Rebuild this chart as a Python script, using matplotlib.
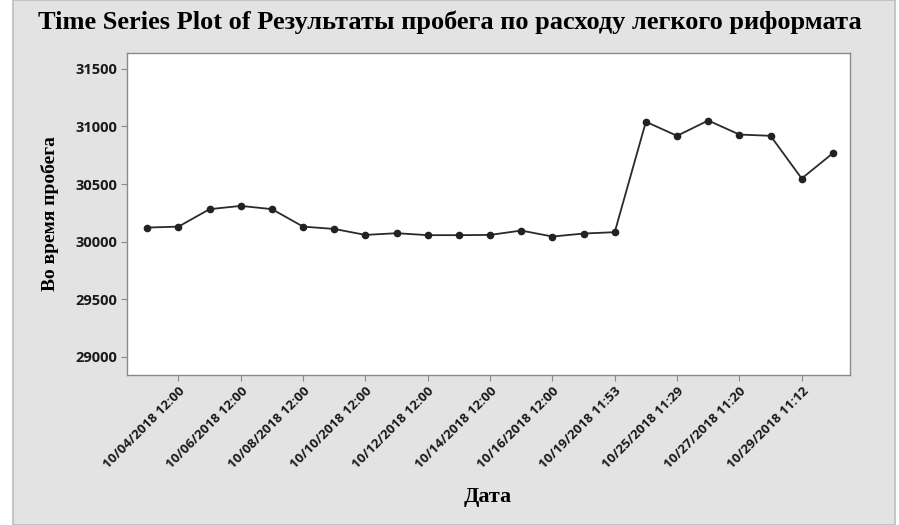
"""
Time series plot (Minitab-style) of light reformate run results.
"""
import matplotlib
matplotlib.use("Agg")
import matplotlib.pyplot as plt
from matplotlib.patches import Rectangle

# data
values = [
    30122, 30130, 30282, 30310, 30282, 30130, 30110, 30058, 30073, 30056,
    30056, 30058, 30096, 30044, 30070, 30082, 31041, 30919, 31052, 30930,
    30919, 30548, 30768,
]
tick_pos = [1, 3, 5, 7, 9, 11, 13, 15, 17, 19, 21]
tick_labels = [
    "10/04/2018 12:00", "10/06/2018 12:00", "10/08/2018 12:00",
    "10/10/2018 12:00", "10/12/2018 12:00", "10/14/2018 12:00",
    "10/16/2018 12:00", "10/19/2018 11:53", "10/25/2018 11:29",
    "10/27/2018 11:20", "10/29/2018 11:12",
]
y_ticks = [29000, 29500, 30000, 30500, 31000, 31500]

title = "Time Series Plot of Результаты пробега по расходу легкого риформата"
ylabel = "Во время пробега"
xlabel = "Дата"

serif = ["Liberation Serif", "DejaVu Serif"]
sans = ["Open Sans", "DejaVu Sans"]

fig = plt.figure(figsize=(8.99, 5.25), dpi=100)
fig.patch.set_facecolor("white")

# gray panel behind everything
fig.patches.append(Rectangle((13 / 899, 0), (895 - 13) / 899, 1,
                             transform=fig.transFigure, facecolor="#e3e3e3",
                             edgecolor="#bdbdbd", linewidth=1.2, zorder=-5))

ax = fig.add_axes((0.1413, 0.2857, 0.8042, 0.6139))
ax.set_zorder(2)
ax.set_facecolor("white")

x = list(range(len(values)))
ax.plot(x, values, color="#2a2a2a", linewidth=1.3, marker="o",
        markersize=4.5, markerfacecolor="#222222", markeredgecolor="#222222")

ax.set_xlim(-0.65, len(values) - 0.45)
ax.set_ylim(28841, 31641)
ax.set_yticks(y_ticks)
ax.set_xticks(tick_pos)
ax.set_xticklabels(tick_labels, rotation=45, ha="right",
                   rotation_mode="anchor", family=sans, fontsize=9.5,
                   fontweight="bold", color="#1a1a1a")
for lab in ax.get_yticklabels():
    lab.set_family(sans)
    lab.set_fontsize(10.5)
    lab.set_fontweight("bold")
    lab.set_color("#1a1a1a")

for s in ax.spines.values():
    s.set_color("#8a8a8a")
    s.set_linewidth(1.0)
ax.tick_params(direction="out", length=4, width=0.8, color="#8a8a8a", pad=3)

ax.set_ylabel(ylabel, family=serif, fontsize=14, fontweight="bold",
              labelpad=12)
fig.text(0.542, 0.053, xlabel, family=serif, fontsize=16,
         fontweight="bold", ha="center", va="center")
fig.text(0.5, 0.958, title, family=serif, fontsize=19, fontweight="bold",
         ha="center", va="center")

plt.savefig("out.png", dpi=100)
print("saved out.png")
